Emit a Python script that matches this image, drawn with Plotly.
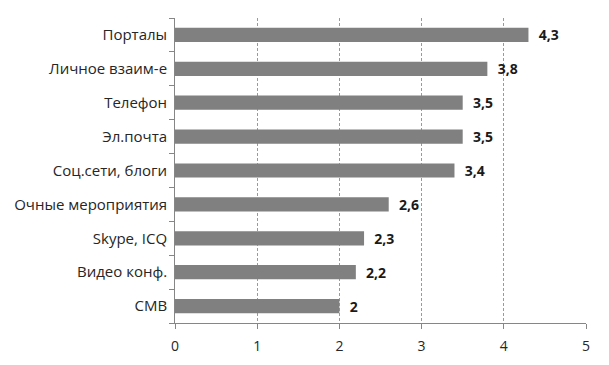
import plotly.graph_objects as go

categories = ["Порталы", "Личное взаим-е", "Телефон", "Эл.почта", "Соц.сети, блоги",
              "Очные мероприятия", "Skype, ICQ", "Видео конф.", "СМВ"]
values = [4.3, 3.8, 3.5, 3.5, 3.4, 2.6, 2.3, 2.2, 2]
x_ticks = [0, 1, 2, 3, 4, 5]

labels = ["  " + ("%g" % v).replace(".", ",") for v in values]

fig = go.Figure(go.Bar(
    y=categories, x=values, orientation="h",
    marker=dict(color="#808080", line=dict(width=0)),
    text=labels, textposition="outside", cliponaxis=False, constraintext="none",
    textfont=dict(family="Open Sans", size=14, color="#1a1a1a", weight="bold"),
    width=0.42,
))

fig.update_layout(
    width=609, height=365,
    margin=dict(l=167, r=31, t=10, b=50),
    paper_bgcolor="white", plot_bgcolor="white",
    font=dict(family="Open Sans", size=14, color="#262626"),
    showlegend=False,
)
fig.update_xaxes(
    range=[0, 5], tickvals=x_ticks, ticktext=[str(t) for t in x_ticks],
    showgrid=True, gridcolor="#9a9a9a", griddash="3px,2px", gridwidth=1,
    showline=True, linecolor="#868686", linewidth=1,
    ticks="outside", ticklen=5, tickcolor="#868686", ticklabelstandoff=5,
    zeroline=False, tickfont=dict(size=14), automargin=False,
)
fig.update_yaxes(
    categoryorder="array", categoryarray=categories[::-1],
    showline=True, linecolor="#868686", linewidth=1,
    ticks="outside", ticklen=5, tickcolor="#868686", tickson="boundaries",
    showgrid=False, ticksuffix=" ", tickfont=dict(size=15), automargin=False,
)

fig.write_html("out.html")
